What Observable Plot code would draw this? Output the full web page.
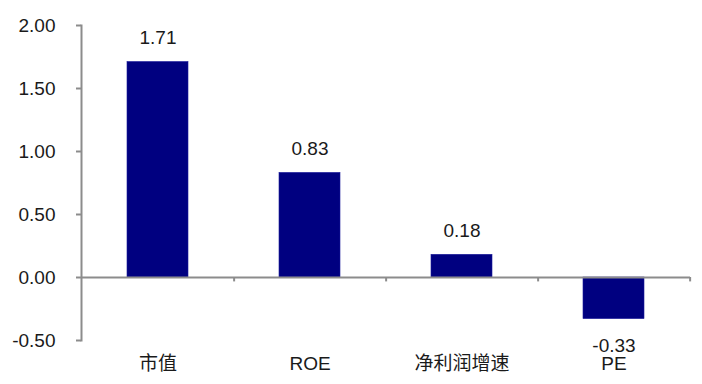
<!DOCTYPE html>
<html><head><meta charset="utf-8">
<script src="https://cdn.jsdelivr.net/npm/d3@7"></script>
<script src="https://cdn.jsdelivr.net/npm/@observablehq/plot@0.6"></script>
<style>
html,body{margin:0;padding:0;background:#fff;}
svg{font-family:"Liberation Sans",Arial,"Noto Sans CJK SC",sans-serif;}
</style></head><body><div id="chart"></div>
<script>
const categories = ["市值", "ROE", "净利润增速", "PE"];
const values = [1.71, 0.83, 0.18, -0.33];
const yTicks = [-0.5, 0, 0.5, 1.0, 1.5, 2.0];

const data = categories.map((c, i) => ({cat: c, v: values[i]}));
const fmt = d => d3.format(".2f")(d).replace("\u2212", "-");
const W = 702, H = 384, mL = 81, mR = 12, mT = 25, mB = 44;
const step = (W - mL - mR) / categories.length;

const chart = Plot.plot({
  width: W, height: H,
  marginLeft: mL, marginRight: mR, marginTop: mT, marginBottom: mB,
  style: {fontSize: "19px", color: "#1a1a1a", background: "#fff"},
  x: {domain: categories, paddingInner: 0.6, paddingOuter: 0.3, axis: null},
  y: {domain: [-0.5, 2.0], axis: null},
  marks: [
    Plot.barY(data, {x: "cat", y: "v", fill: "#000080", stroke: "#1a1a9a", strokeWidth: 0.6}),
    Plot.ruleY([0], {stroke: "#8c8c8c", strokeWidth: 2}),
    Plot.ruleX(categories, {x: d => d, y1: 0, y2: -0.035, dx: step / 2, stroke: "#8c8c8c", strokeWidth: 2}),
    Plot.axisY({ticks: yTicks, tickFormat: fmt, tickSize: 5, tickPadding: 21, label: null,
      stroke: "#8c8c8c", strokeWidth: 2, fontSize: 19, fill: "#1a1a1a"}),
    Plot.frame({anchor: "left", stroke: "#8c8c8c", strokeWidth: 2}),
    Plot.text(data.filter(d => d.v >= 0), {x: "cat", y: "v", text: d => fmt(d.v),
      dy: -24, fontSize: 19, fill: "#1a1a1a"}),
    Plot.text(data.filter(d => d.v < 0), {x: "cat", y: "v", text: d => fmt(d.v),
      dy: 27, fontSize: 19, fill: "#1a1a1a"}),
    Plot.text(data, {x: "cat", text: "cat", frameAnchor: "bottom", dy: 23, lineAnchor: "middle",
      fontSize: 19, fill: "#1a1a1a"})
  ]
});
document.getElementById("chart").appendChild(chart);
</script></body></html>
